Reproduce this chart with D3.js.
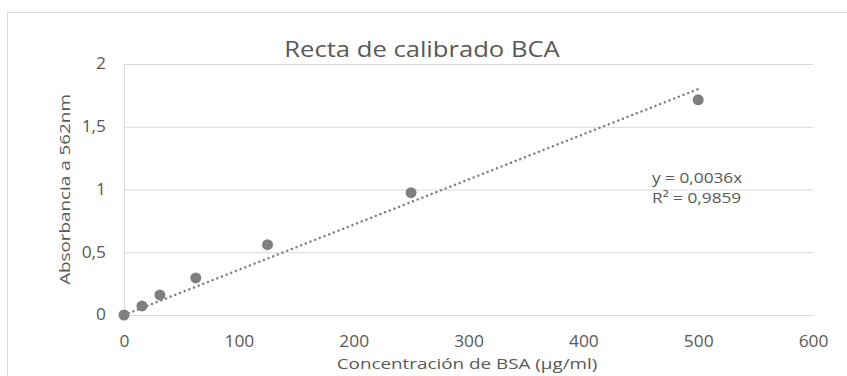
<!DOCTYPE html>
<html>
<head>
<meta charset="utf-8">
<script src="https://cdn.jsdelivr.net/npm/d3@7/dist/d3.min.js"></script>
<style>
  html, body { margin: 0; padding: 0; background: #fff; }
  svg { display: block; }
  text { font-family: "Open Sans", "Noto Sans", sans-serif; fill: #595959; }
</style>
</head>
<body>
<svg id="chart" width="847" height="376"></svg>
<script>
// Data
const concentrations = [0, 15.625, 31.25, 62.5, 125, 250, 500];
const absorbances = [0, 0.072, 0.16, 0.295, 0.56, 0.975, 1.715];
const trendSlope = 0.0036;
const trendLabel = "y = 0,0036x";
const r2Label = "R² = 0,9859";
const xTicks = [0, 100, 200, 300, 400, 500, 600];
const yTicks = [0, 0.5, 1, 1.5, 2];
const titleText = "Recta de calibrado BCA";
const xTitle = "Concentración de BSA (μg/ml)";
const yTitle = "Absorbancia a 562nm";

const svg = d3.select("#chart");
const W = 847, H = 376;
const margin = { left: 124, right: 34, top: 64, bottom: 61 };
const tickStretch = 1.12; // reference text is horizontally stretched

// chart area border
svg.append("rect")
  .attr("x", 7.5).attr("y", 12.5)
  .attr("width", 860).attr("height", 380)
  .attr("fill", "#fff").attr("stroke", "#d9d9d9").attr("stroke-width", 1);

const x = d3.scaleLinear().domain([0, 600]).range([margin.left, W - margin.right]);
const y = d3.scaleLinear().domain([0, 2]).range([H - margin.bottom, margin.top]);

const fmt = d => d3.format("~g")(d).replace(".", ",");

// y axis + gridlines
const yAxis = d3.axisLeft(y).tickValues(yTicks).tickFormat(fmt)
  .tickSize(-(x(600) - x(0))).tickPadding(0);
const gy = svg.append("g").attr("transform", `translate(${x(0)},0)`).call(yAxis);
gy.select(".domain").attr("stroke", "#d9d9d9");
gy.selectAll(".tick line").attr("stroke", "#d9d9d9").attr("stroke-width", 1);
gy.selectAll(".tick text")
  .attr("x", null)
  .attr("font-size", 15.5).attr("fill", "#595959")
  .style("font-family", '"Open Sans", sans-serif')
  .attr("transform", `translate(-18,0) scale(${tickStretch},1)`);

// x axis
const xAxis = d3.axisBottom(x).tickValues(xTicks).tickFormat(fmt).tickSize(0).tickPadding(0);
const gx = svg.append("g").attr("transform", `translate(0,${y(0)})`).call(xAxis);
gx.select(".domain").attr("stroke", "#d9d9d9");
gx.selectAll(".tick text")
  .attr("y", null).attr("dy", null)
  .attr("font-size", 15.5).attr("fill", "#595959")
  .style("font-family", '"Open Sans", sans-serif')
  .attr("transform", `translate(0,31.5) scale(${tickStretch},1)`);

// trendline
svg.append("line")
  .attr("x1", x(0)).attr("y1", y(0))
  .attr("x2", x(500)).attr("y2", y(500 * trendSlope))
  .attr("stroke", "#7f7f7f").attr("stroke-width", 2.5)
  .attr("stroke-linecap", "round").attr("stroke-dasharray", "0.01 5");

// points
svg.append("g").selectAll("circle")
  .data(concentrations.map((c, i) => [c, absorbances[i]]))
  .join("circle")
  .attr("cx", d => x(d[0])).attr("cy", d => y(d[1]))
  .attr("r", 5.5).attr("fill", "#7f7f7f");

// title
svg.append("text").attr("transform", `translate(422,57) scale(1.22,1)`)
  .attr("text-anchor", "middle").attr("font-size", 21).text(titleText);

// axis titles
svg.append("text").attr("transform", `translate(467,369) scale(1.3,1)`)
  .attr("text-anchor", "middle").attr("font-size", 14.5).text(xTitle);
svg.append("text").attr("transform", `translate(70,${y(1)}) rotate(-90) scale(1.3,1)`)
  .attr("text-anchor", "middle").attr("font-size", 14.5).text(yTitle);

// trendline labels
svg.append("text").attr("transform", `translate(652,183) scale(1.15,1)`)
  .attr("font-size", 15).text(trendLabel);
svg.append("text").attr("transform", `translate(652,203) scale(1.15,1)`)
  .attr("font-size", 15).text(r2Label);
</script>
</body>
</html>
